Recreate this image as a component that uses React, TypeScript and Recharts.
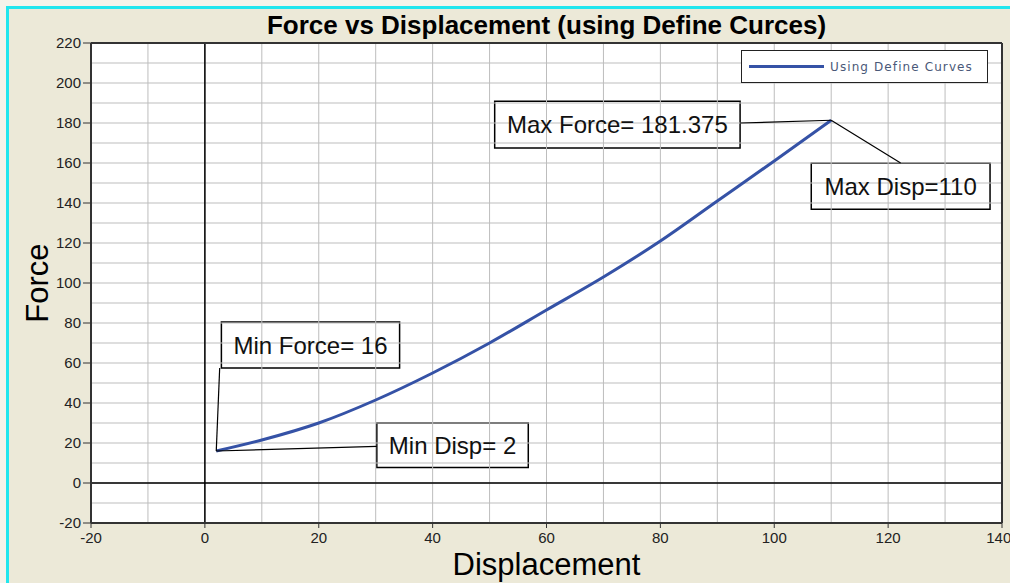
import React from 'react';
import {
  LineChart,
  Line,
  XAxis,
  YAxis,
  ReferenceLine,
  ReferenceArea,
  Label,
} from 'recharts';

// curve
const displacement = [2, 10, 20, 30, 40, 50, 60, 70, 80, 90, 100, 110];
const force = [16, 21.5, 30, 41.5, 55, 70, 86.5, 103, 121, 141, 161, 181.375];

const xTicks = [-20, 0, 20, 40, 60, 80, 100, 120, 140];
const yTicks = [-20, 0, 20, 40, 60, 80, 100, 120, 140, 160, 180, 200, 220];
const xGrid = [-10, 0, 10, 20, 30, 40, 50, 60, 70, 80, 90, 100, 110, 120, 130];
const yGrid = [-10, 0, 10, 20, 30, 40, 50, 60, 70, 80, 90, 100, 110, 120, 130, 140, 150, 160, 170, 180, 190, 200, 210];

const seriesName = 'Using Define Curves';

// annotation boxes (data units) and their leader lines
const notes = [
  { text: 'Max Force= 181.375', x1: 50.9, x2: 94, y1: 167.5, y2: 190.9 },
  { text: 'Max Disp=110', x1: 106.5, x2: 137.9, y1: 136.9, y2: 159.9 },
  { text: 'Min Force= 16', x1: 2.9, x2: 34.2, y1: 57.5, y2: 80.5 },
  { text: 'Min Disp= 2', x1: 30.2, x2: 56.8, y1: 7.7, y2: 30 },
];
const leaders = [
  [{ x: 94, y: 180 }, { x: 110, y: 181.375 }],
  [{ x: 110, y: 181.375 }, { x: 122.2, y: 160 }],
  [{ x: 2.6, y: 57.5 }, { x: 2, y: 16 }],
  [{ x: 30.2, y: 18.3 }, { x: 2, y: 16 }],
];

const data = displacement.map((d, i) => ({ disp: d, force: force[i] }));

const FONT = 'Arial, "Liberation Sans", sans-serif';
const BLUE = '#3552a6';
const GRID = '#bdbdbd';
const FRAME = '#333';

const LegendBox = () => (
  <div
    style={{
      position: 'absolute',
      left: 741,
      top: 50,
      width: 247,
      height: 33,
      border: '1.5px solid #222',
      background: '#fff',
      display: 'flex',
      alignItems: 'center',
      boxSizing: 'border-box',
    }}
  >
    <div style={{ width: 75, height: 3, background: BLUE, marginLeft: 7, marginRight: 6 }} />
    <span
      style={{
        fontFamily: '"DejaVu Sans", Verdana, sans-serif',
        fontSize: 12,
        letterSpacing: 1.1,
        color: '#4a5878',
      }}
    >
      {seriesName}
    </span>
  </div>
);

const App = () => {
  return (
    <div
      style={{
        position: 'absolute',
        left: 0,
        top: 0,
        width: 1010,
        height: 583,
        background: '#f5f3ea',
        overflow: 'hidden',
      }}
    >
      <div
        style={{
          position: 'absolute',
          left: 6,
          top: 6,
          right: 0,
          bottom: 0,
          borderTop: '3px solid #22e6ee',
          borderLeft: '3px solid #22e6ee',
          background: '#ece9d8',
        }}
      />
      <div
        style={{
          position: 'absolute',
          left: 91,
          top: 12,
          width: 911,
          textAlign: 'center',
          fontFamily: FONT,
          fontWeight: 'bold',
          fontSize: 26,
          lineHeight: '26px',
          color: '#000',
        }}
      >
        Force vs Displacement (using Define Curces)
      </div>
      <LineChart
        width={1010}
        height={583}
        data={data}
        margin={{ top: 43, right: 8, bottom: 0, left: 0 }}
        style={{ position: 'absolute', left: 0, top: 0 }}
      >
        <XAxis
          dataKey="disp"
          type="number"
          domain={[-20, 140]}
          ticks={xTicks}
          allowDataOverflow
          height={60}
          tickSize={5}
          tickMargin={4}
          tickLine={{ stroke: FRAME }}
          axisLine={{ stroke: FRAME, strokeWidth: 2 }}
          tick={{ fill: '#222', fontSize: 15, fontFamily: FONT }}
        >
          <Label
            content={(props: any) => {
              const vb = props.viewBox;
              return (
                <text
                  x={vb.x + vb.width / 2}
                  y={vb.y + 52}
                  textAnchor="middle"
                  fontSize={31}
                  fontFamily={FONT}
                  fill="#000"
                >
                  Displacement
                </text>
              );
            }}
          />
        </XAxis>
        <YAxis
          type="number"
          domain={[-20, 220]}
          ticks={yTicks}
          allowDataOverflow
          width={91}
          tickSize={8}
          tickMargin={2}
          tickLine={{ stroke: FRAME }}
          axisLine={{ stroke: FRAME, strokeWidth: 2 }}
          tick={{ fill: '#222', fontSize: 15, fontFamily: FONT }}
        >
          <Label
            content={(props: any) => {
              const vb = props.viewBox;
              const cx = vb.x + 48;
              const cy = vb.y + vb.height / 2;
              return (
                <text
                  x={cx}
                  y={cy}
                  transform={`rotate(-90, ${cx}, ${cy})`}
                  textAnchor="middle"
                  fontSize={31}
                  fontFamily={FONT}
                  fill="#000"
                >
                  Force
                </text>
              );
            }}
          />
        </YAxis>
        <ReferenceArea x1={-20} x2={140} y1={-20} y2={220} fill="#fff" fillOpacity={1} stroke="none" />
        {xGrid.map((v) => (
          <ReferenceLine key={'gx' + v} x={v} stroke={GRID} strokeWidth={1} />
        ))}
        {yGrid.map((v) => (
          <ReferenceLine key={'gy' + v} y={v} stroke={GRID} strokeWidth={1} />
        ))}
        <ReferenceLine x={0} stroke="#000" strokeWidth={1.5} />
        <ReferenceLine y={0} stroke="#000" strokeWidth={1.5} />
        <ReferenceLine x={140} stroke={FRAME} strokeWidth={2} />
        <ReferenceLine y={220} stroke={FRAME} strokeWidth={2} />
        <Line
          type="monotone"
          dataKey="force"
          name={seriesName}
          stroke={BLUE}
          strokeWidth={3}
          dot={false}
          isAnimationActive={false}
        />
        {leaders.map((seg, i) => (
          <ReferenceLine key={'ld' + i} segment={seg} stroke="#000" strokeWidth={1.2} />
        ))}
        {notes.map((n) => (
          <ReferenceArea
            key={n.text}
            x1={n.x1}
            x2={n.x2}
            y1={n.y1}
            y2={n.y2}
            fill="#fff"
            fillOpacity={1}
            stroke="#000"
            strokeWidth={1.5}
            label={{ value: n.text, position: 'center', fontSize: 24, fill: '#111', fontFamily: FONT }}
          />
        ))}
      </LineChart>
      <LegendBox />
    </div>
  );
};

export default App;
